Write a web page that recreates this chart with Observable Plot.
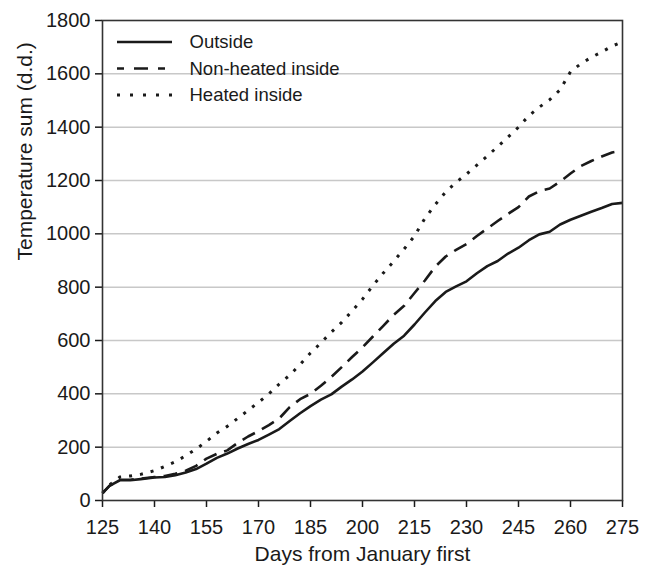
<!DOCTYPE html>
<html><head><meta charset="utf-8">
<script src="https://cdn.jsdelivr.net/npm/d3@7"></script>
<script src="https://cdn.jsdelivr.net/npm/@observablehq/plot@0.6"></script>
<style>body{margin:0;background:#fff}</style>
</head><body><div id="chart"></div>
<script>
const days = [125,127,130,133,136,140,143,146,149,152,155,158,161,164,167,170,173,176,179,182,185,188,191,194,197,200,203,206,209,212,215,218,221,224,227,230,233,236,239,242,245,248,251,254,257,260,263,266,269,272,275];
const outside = [28,55,76,76,80,86,88,95,105,118,138,160,176,195,212,227,247,268,298,327,354,378,398,427,454,484,518,553,588,618,660,705,748,782,803,822,852,879,898,926,948,976,998,1008,1035,1053,1068,1083,1097,1112,1116];
const nonHeated = [28,55,78,78,82,88,92,100,112,130,157,175,188,216,240,260,283,308,350,380,400,430,463,500,538,574,615,655,696,730,778,825,877,915,940,962,992,1020,1048,1075,1100,1140,1160,1170,1196,1226,1254,1273,1290,1305,1312];
const heated = [28,58,88,92,98,112,128,145,168,193,222,253,278,308,338,368,400,437,470,510,553,591,631,668,711,755,806,853,897,943,992,1058,1110,1157,1193,1224,1258,1292,1327,1363,1400,1443,1475,1503,1540,1608,1638,1662,1682,1704,1720];
const seriesNames = ["Outside", "Non-heated inside", "Heated inside"];
const xTicks = [125,140,155,170,185,200,215,230,245,260,275];
const yTicks = [0,200,400,600,800,1000,1200,1400,1600,1800];
const gridTicks = [200,400,600,800,1000,1200,1400,1600];
const xLabel = "Days from January first";
const yLabel = "Temperature sum (d.d.)";

const rows = (vals) => days.map((d, i) => ({day: d, value: vals[i]}));
const dashes = ["none", "14,8", "3,8"];
const seriesVals = [outside, nonHeated, heated];
const ink = "#1a1a1a";

const chart = Plot.plot({
  width: 646,
  height: 574,
  marginLeft: 102,
  marginRight: 24,
  marginTop: 20,
  marginBottom: 74,
  style: {fontFamily: "'Liberation Sans', Arial, sans-serif", fontSize: "20px", color: ink, background: "#fff"},
  x: {domain: [125, 275]},
  y: {domain: [0, 1800]},
  marks: [
    Plot.gridY(gridTicks, {stroke: "#c8c8c8", strokeOpacity: 1, strokeWidth: 1.5}),
    Plot.axisX(xTicks, {tickSize: 7, tickPadding: 12, label: null, stroke: ink, strokeWidth: 1.5, fill: ink, fontSize: 20, tickFormat: d => String(d)}),
    Plot.axisY(yTicks, {tickSize: 7, tickPadding: 5, label: null, stroke: ink, strokeWidth: 1.5, fill: ink, fontSize: 20, tickFormat: d => String(d)}),
    ...seriesVals.map((vals, i) => Plot.line(rows(vals), {
      x: "day", y: "value", stroke: ink, strokeWidth: i === 2 ? 3 : 2.6,
      strokeDasharray: dashes[i] === "none" ? null : dashes[i],
      strokeLinecap: "butt", curve: "linear"
    })),
    Plot.frame({stroke: "#333", strokeWidth: 1.6}),
    Plot.text([xLabel], {frameAnchor: "bottom", dy: 60, fontSize: 21, fill: ink}),
    Plot.text([yLabel], {frameAnchor: "left", rotate: -90, dx: -77, fontSize: 21, fill: ink}),
    ...seriesNames.map((name, i) => Plot.text([name], {frameAnchor: "top-left", lineAnchor: "middle", dx: 87, dy: 22 + i * 26.5, textAnchor: "start", fontSize: 18.5, fill: ink}))
  ]
});

// legend line samples
const svg = d3.select(chart);
seriesNames.forEach((name, i) => {
  svg.append("line")
    .attr("x1", 117).attr("x2", 172)
    .attr("y1", 42 + i * 26.5).attr("y2", 42 + i * 26.5)
    .attr("stroke", ink).attr("stroke-width", i === 2 ? 3 : 2.6)
    .attr("stroke-dasharray", i === 0 ? null : (i === 1 ? "7,10,14,10,7" : "3,10"));
});
document.getElementById("chart").appendChild(chart);
</script>
</body></html>
